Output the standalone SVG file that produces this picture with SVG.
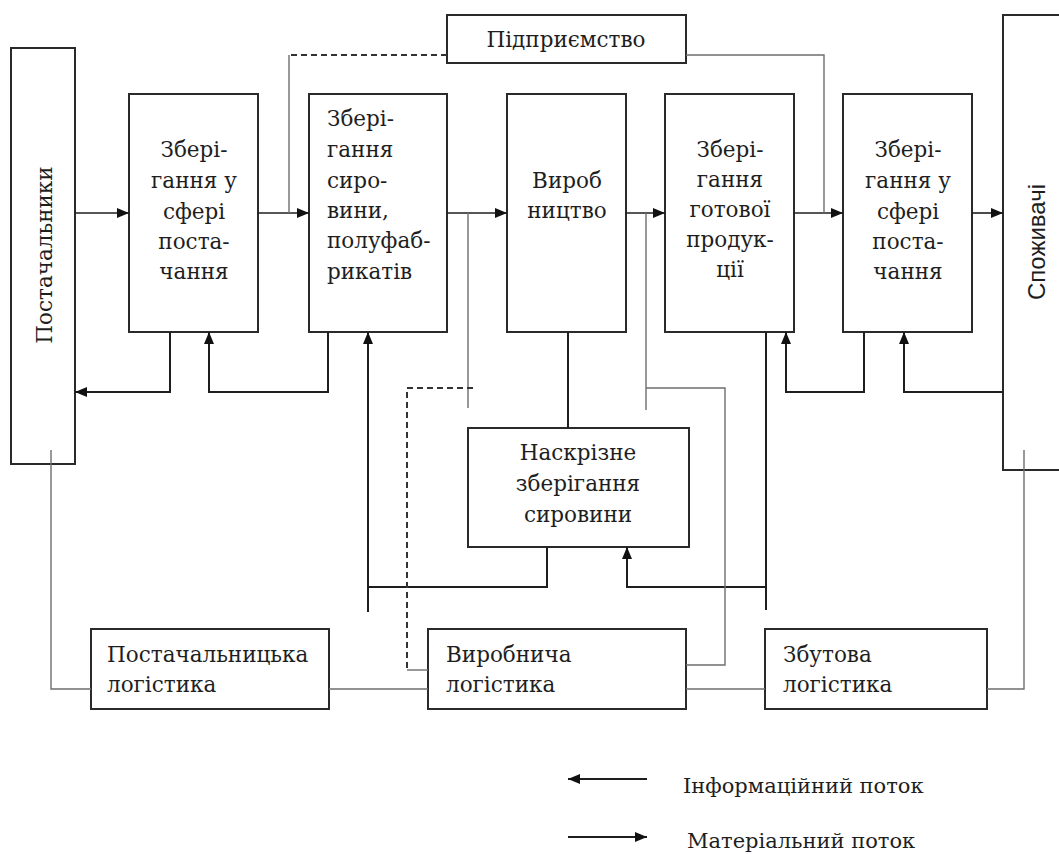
<svg xmlns="http://www.w3.org/2000/svg" width="1059" height="854" viewBox="0 0 1059 854">
<style>
.box{fill:#fff;stroke:#2a2a2a;stroke-width:2}
.c{text-anchor:middle}
.thick{fill:none;stroke:#1e1e1e;stroke-width:2}
.flow{fill:none;stroke:#1e1e1e;stroke-width:1.6}
.thin{fill:none;stroke:#6e6e6e;stroke-width:1.4}
.dash{fill:none;stroke:#333;stroke-width:2;stroke-dasharray:6 4}
</style>
<defs>
<marker id="ar" markerUnits="userSpaceOnUse" markerWidth="12" markerHeight="10" refX="12" refY="5" orient="auto">
<path d="M0,0 L12,5 L0,10 z" fill="#111"/>
</marker>
</defs>
<rect width="1059" height="854" fill="#fff"/>
<g id="nodes" font-family="'DejaVu Serif', 'Liberation Serif', 'Times New Roman', Times, serif" font-size="21.5" fill="#1e1e1e">
<g id="suppliers"><rect class="box" x="11" y="48" width="64" height="416"/><text class="c" transform="translate(52,255) rotate(-90)">Постачальники</text></g>
<g id="b1"><rect class="box" x="129" y="94" width="129" height="238"/>
<text class="c" x="194" y="157">Збері-</text><text class="c" x="194" y="188">гання у</text><text class="c" x="194" y="219">сфері</text><text class="c" x="194" y="249">поста-</text><text class="c" x="194" y="279">чання</text></g>
<g id="b2"><rect class="box" x="309" y="94" width="138" height="238"/>
<text x="327" y="126">Збері-</text><text x="327" y="157">гання</text><text x="327" y="188">сиро-</text><text x="327" y="218">вини,</text><text x="327" y="248">полуфаб-</text><text x="327" y="279">рикатів</text></g>
<g id="b3"><rect class="box" x="507" y="94" width="119" height="238"/>
<text class="c" x="567" y="188">Вироб</text><text class="c" x="567" y="218">ництво</text></g>
<g id="b4"><rect class="box" x="665" y="94" width="129" height="238"/>
<text class="c" x="730" y="157">Збері-</text><text class="c" x="730" y="187">гання</text><text class="c" x="730" y="217">готової</text><text class="c" x="730" y="247">продук-</text><text class="c" x="730" y="277">ції</text></g>
<g id="b5"><rect class="box" x="843" y="94" width="129" height="238"/>
<text class="c" x="908" y="157">Збері-</text><text class="c" x="908" y="188">гання у</text><text class="c" x="908" y="219">сфері</text><text class="c" x="908" y="249">поста-</text><text class="c" x="908" y="279">чання</text></g>
<g id="consumers"><rect class="box" x="1003" y="15" width="70" height="455"/><text class="c" font-family="'Liberation Sans', Arial, sans-serif" font-size="24" transform="translate(1045,242) rotate(-90)">Споживачі</text></g>
<g id="enterprise"><rect class="box" x="447" y="15" width="239" height="48"/><text class="c" x="566" y="47">Підприємство</text></g>
<g id="through"><rect class="box" x="468" y="428" width="221" height="119"/>
<text class="c" x="578" y="460">Наскрізне</text><text class="c" x="578" y="491">зберігання</text><text class="c" x="578" y="522">сировини</text></g>
<g id="l1"><rect class="box" x="91" y="629" width="238" height="80"/><text x="107" y="662">Постачальницька</text><text x="107" y="692">логістика</text></g>
<g id="l2"><rect class="box" x="428" y="629" width="258" height="80"/><text x="446" y="662">Виробнича</text><text x="446" y="692">логістика</text></g>
<g id="l3"><rect class="box" x="765" y="629" width="222" height="80"/><text x="783" y="662">Збутова</text><text x="783" y="692">логістика</text></g>
</g>
<g id="connectors">
<path class="flow" d="M75,213 H129" marker-end="url(#ar)"/>
<path class="flow" d="M258,213 H309" marker-end="url(#ar)"/>
<path class="flow" d="M447,213 H507" marker-end="url(#ar)"/>
<path class="flow" d="M626,213 H665" marker-end="url(#ar)"/>
<path class="flow" d="M794,213 H843" marker-end="url(#ar)"/>
<path class="flow" d="M972,213 H1003" marker-end="url(#ar)"/>
<path class="thick" d="M170,332 V392 H75" marker-end="url(#ar)"/>
<path class="thick" d="M328,332 V392 H209 V332" marker-end="url(#ar)"/>
<path class="thick" d="M864,332 V392 H786 V332" marker-end="url(#ar)"/>
<path class="thick" d="M1003,392 H904 V332" marker-end="url(#ar)"/>
<path class="thick" d="M368,612 V332" marker-end="url(#ar)"/>
<path class="thick" d="M547,547 V587 H368"/>
<path class="thick" d="M766,332 V610"/>
<path class="thick" d="M766,587 H627 V547" marker-end="url(#ar)"/>
<path class="thick" d="M568,332 V428"/>
<path class="thin" d="M468,213 V408"/>
<path class="thin" d="M646,213 V410"/>
<path class="thin" d="M646,388 H725 V665 H686"/>
<path class="thin" d="M51,450 V689 H91"/>
<path class="thin" d="M329,689 H428"/>
<path class="thin" d="M686,689 H765"/>
<path class="thin" d="M987,689 H1024 V450"/>
<path class="thin" d="M686,55 H824 V213"/>
<path class="dash" d="M447,55 H289"/>
<path class="thin" d="M289,55 V213"/>
<path class="dash" d="M473,388 H407 V670"/>
<path class="thin" d="M407,670 H428"/>
</g>
<g id="legend" font-family="'DejaVu Serif', 'Liberation Serif', 'Times New Roman', Times, serif" font-size="21" fill="#1e1e1e">
<path class="thick" d="M647,779 H568" marker-end="url(#ar)"/>
<text x="683" y="793">Інформаційний поток</text>
<path class="thick" d="M568,837 H647" marker-end="url(#ar)"/>
<text x="687" y="848">Матеріальний поток</text>
</g>
</svg>
